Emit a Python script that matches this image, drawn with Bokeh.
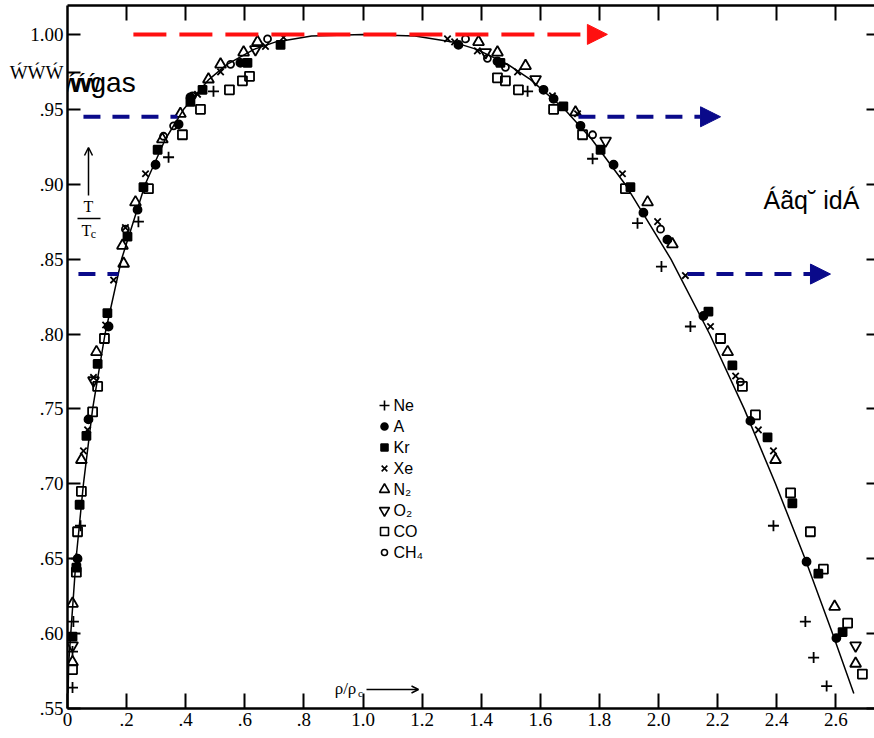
from bokeh.plotting import figure
from bokeh.models import Range1d, LinearAxis, FixedTicker, Arrow, NormalHead, OpenHead, Label
from bokeh.core.properties import value
from bokeh.embed import file_html
from bokeh.resources import INLINE

# ---- coexistence curve (reduced density vs reduced temperature) ----
curve_rho = [0.002, 0.004, 0.011, 0.029, 0.054, 0.085, 0.127, 0.183, 0.263, 0.331,
             0.393, 0.479, 0.540, 0.631, 0.705, 0.826, 1.000, 1.176, 1.303, 1.385,
             1.490, 1.566, 1.682, 1.774, 1.887, 2.042, 2.173, 2.290, 2.396, 2.496,
             2.589, 2.661]
curve_t = [0.560, 0.580, 0.600, 0.650, 0.700, 0.750, 0.800, 0.850, 0.900, 0.930,
           0.950, 0.970, 0.980, 0.990, 0.995, 0.999, 1.000, 0.999, 0.995, 0.990,
           0.980, 0.970, 0.950, 0.930, 0.900, 0.850, 0.800, 0.750, 0.700, 0.650,
           0.600, 0.560]

# ---- measured points per substance ----
ne_rho = [0.494, 0.342, 0.240, 0.044, 0.030, 0.020, 0.017, 0.017,
          1.557, 1.777, 1.929, 2.010, 2.108, 2.389, 2.497, 2.525, 2.569]
ne_t = [0.962, 0.918, 0.875, 0.672, 0.650, 0.608, 0.588, 0.564,
        0.962, 0.917, 0.874, 0.845, 0.805, 0.672, 0.608, 0.584, 0.565]

ar_rho = [0.416, 0.585, 0.237, 0.298, 0.376, 0.139, 0.071, 0.034,
          1.323, 1.455, 1.611, 1.645, 1.736, 1.848, 1.949, 2.030, 2.152, 2.311, 2.501, 2.602]
ar_t = [0.958, 0.981, 0.883, 0.913, 0.940, 0.805, 0.743, 0.650,
        0.993, 0.982, 0.963, 0.957, 0.939, 0.913, 0.881, 0.863, 0.812, 0.742, 0.648, 0.597]

kr_rho = [0.457, 0.609, 0.721, 0.257, 0.305, 0.416, 0.203, 0.135, 0.102, 0.064, 0.041, 0.030, 0.017,
          1.465, 1.678, 1.804, 1.905, 2.169, 2.250, 2.369, 2.453, 2.541, 2.623]
kr_t = [0.963, 0.981, 0.993, 0.898, 0.923, 0.955, 0.865, 0.814, 0.780, 0.732, 0.686, 0.644, 0.598,
        0.981, 0.952, 0.923, 0.898, 0.815, 0.779, 0.731, 0.687, 0.640, 0.601]

xe_rho = [0.731, 0.670, 0.518, 0.440, 0.264, 0.196, 0.156, 0.129, 0.088, 0.068, 0.054,
          1.286, 1.310, 1.387, 1.523, 1.641, 1.726, 1.878, 1.997, 2.091, 2.176, 2.261, 2.338, 2.389]
xe_t = [0.998, 0.992, 0.975, 0.960, 0.907, 0.871, 0.836, 0.806, 0.771, 0.736, 0.722,
        0.997, 0.995, 0.989, 0.975, 0.959, 0.947, 0.907, 0.875, 0.839, 0.805, 0.772, 0.736, 0.722]

n2_rho = [0.477, 0.518, 0.596, 0.643, 0.382, 0.321, 0.230, 0.186, 0.190, 0.098, 0.047, 0.017, 0.017,
          1.391, 1.455, 1.550, 1.719, 1.963, 2.047, 2.234, 2.396, 2.596, 2.667]
n2_t = [0.970, 0.980, 0.988, 0.995, 0.947, 0.930, 0.888, 0.859, 0.847, 0.788, 0.716, 0.620, 0.581,
        0.995, 0.988, 0.979, 0.948, 0.888, 0.860, 0.788, 0.716, 0.618, 0.580]

o2_rho = [0.636, 0.088, 0.017, 1.415, 1.584, 1.821, 2.667]
o2_t = [0.990, 0.769, 0.592, 0.988, 0.970, 0.929, 0.592]

co_rho = [0.450, 0.548, 0.592, 0.616, 0.389, 0.274, 0.125, 0.102, 0.085, 0.047, 0.034, 0.030, 0.017,
          1.455, 1.482, 1.526, 1.645, 1.743, 1.888, 2.210, 2.284, 2.328, 2.447, 2.514, 2.558, 2.640, 2.690]
co_t = [0.950, 0.963, 0.969, 0.972, 0.933, 0.897, 0.797, 0.765, 0.748, 0.695, 0.668, 0.641, 0.576,
        0.971, 0.969, 0.963, 0.950, 0.933, 0.897, 0.797, 0.765, 0.746, 0.694, 0.668, 0.643, 0.607, 0.573]

ch4_rho = [0.677, 0.552, 0.423, 0.359, 0.325, 0.196, 1.347, 1.421, 1.482, 1.777, 2.007, 2.277]
ch4_t = [0.997, 0.980, 0.959, 0.939, 0.932, 0.870, 0.997, 0.984, 0.978, 0.933, 0.870, 0.768]

# ---- axes ----
x_ticks = [0.0, 0.2, 0.4, 0.6, 0.8, 1.0, 1.2, 1.4, 1.6, 1.8, 2.0, 2.2, 2.4, 2.6]
x_tick_labels = ["0", ".2", ".4", ".6", ".8", "1.0", "1.2", "1.4", "1.6", "1.8", "2.0", "2.2", "2.4", "2.6"]
y_ticks = [0.55, 0.60, 0.65, 0.70, 0.75, 0.80, 0.85, 0.90, 0.95, 1.00]
y_tick_labels = [".55", ".60", ".65", ".70", ".75", ".80", ".85", ".90", ".95", "1.00"]

# reference lines (arrows) at fixed reduced temperatures
t_crit_line = 1.00
t_upper_line = 0.945
t_lower_line = 0.84

# ---- layout helpers: canvas pixels -> data units ----
W, H = 874, 738
LEFT, TOP, BOTTOM = 67, 5, 708
PX_PER_X = 295.5
PX_PER_Y = 1498.0
X_MAX = (W - LEFT) / PX_PER_X
Y_MIN = 0.55
Y_MAX = Y_MIN + (BOTTOM - TOP) / PX_PER_Y


def fx(px):
    return (px - LEFT) / PX_PER_X


def fy(py):
    return Y_MIN + (BOTTOM - py) / PX_PER_Y


p = figure(width=W, height=H, output_backend="svg", toolbar_location=None,
           x_range=Range1d(0, X_MAX), y_range=Range1d(Y_MIN, Y_MAX),
           x_axis_location=None, y_axis_location=None,
           min_border_left=LEFT, min_border_right=0, min_border_top=TOP,
           min_border_bottom=H - BOTTOM)
p.grid.visible = False
p.outline_line_color = None
p.background_fill_color = "white"
p.border_fill_color = "white"

LABEL_FONT = "Liberation Serif"

# the left margin also carries the start of the "gas" caption, which sits
# outside the frame; it rides on the left axis as an extra labelled position
gas_row = round(fy(72), 4)
left_ticks = y_ticks + [gas_row]
left_labels = {t: s for t, s in zip(y_ticks, y_tick_labels)}
left_labels[gas_row] = "\u1e82\u1e82\u1e82"

bottom = LinearAxis(ticker=FixedTicker(ticks=x_ticks),
                    major_label_overrides={t: s for t, s in zip(x_ticks, x_tick_labels)})
left = LinearAxis(ticker=FixedTicker(ticks=left_ticks), major_label_overrides=left_labels)
top = LinearAxis(ticker=FixedTicker(ticks=x_ticks[1:]),
                 major_label_overrides={t: "" for t in x_ticks[1:]})
right = LinearAxis(ticker=FixedTicker(ticks=y_ticks),
                   major_label_overrides={t: "" for t in y_ticks})

for ax, tick_len in ((bottom, 15), (left, 13), (top, 15), (right, 8)):
    ax.axis_line_color = "black"
    ax.axis_line_width = 2.5
    ax.major_tick_in = tick_len
    ax.major_tick_out = 0
    ax.major_tick_line_width = 2
    ax.major_tick_line_color = "black"
    ax.minor_tick_in = 0
    ax.minor_tick_out = 0
    ax.major_label_text_font = LABEL_FONT
    ax.major_label_text_font_size = "19px"
    ax.major_label_text_color = "black"

bottom.major_label_standoff = 4
left.major_label_standoff = 4
top.major_label_standoff = 0
top.major_label_text_font_size = "1px"
right.major_label_standoff = 0
right.major_label_text_font_size = "1px"
right.axis_line_color = None

p.add_layout(bottom, "below")
p.add_layout(left, "left")
p.add_layout(top, "above")
p.add_layout(right, "right")

# ---- curve and points ----
p.line(curve_rho, curve_t, line_color="black", line_width=1.5)

series = [
    (ne_rho, ne_t, "cross", 11, None),
    (ar_rho, ar_t, "circle", 8, "black"),
    (kr_rho, kr_t, "square", 8, "black"),
    (xe_rho, xe_t, "x", 9, None),
    (n2_rho, n2_t, "triangle", 11, None),
    (o2_rho, o2_t, "inverted_triangle", 11, None),
    (co_rho, co_t, "square", 9, None),
    (ch4_rho, ch4_t, "circle", 7, None),
]
for xs, ys, marker, size, fill in series:
    p.scatter(xs, ys, marker=marker, size=size, line_color="black", line_width=1.8,
              fill_color=fill)

# ---- key ----
key_names = ["Ne", "A", "Kr", "Xe", "N\u2082", "O\u2082", "CO", "CH\u2084"]
for i, ((_, _, marker, size, fill), name) in enumerate(zip(series, key_names)):
    row_y = fy(405 + 21 * i)
    p.scatter([fx(384)], [row_y], marker=marker, size=size - 1, line_color="black",
              line_width=1.6, fill_color=fill)
    p.text([fx(393)], [row_y], text=[name], text_font=value("Liberation Sans"),
           text_font_size="16px", text_baseline="middle", text_align="left",
           text_color="black")

# ---- axis captions drawn inside the frame ----
p.text([fx(88)], [fy(206)], text=["T"], text_font=value(LABEL_FONT),
       text_font_size="16px", text_align="center", text_baseline="middle")
p.segment([fx(77)], [fy(218)], [fx(100)], [fy(218)], line_color="black", line_width=1.5)
p.text([fx(86)], [fy(230)], text=["T"], text_font=value(LABEL_FONT),
       text_font_size="16px", text_align="center", text_baseline="middle")
p.text([fx(93)], [fy(233)], text=["c"], text_font=value(LABEL_FONT),
       text_font_size="12px", text_align="center", text_baseline="middle")
p.add_layout(Arrow(end=OpenHead(size=8, line_width=1.5), x_start=fx(88), y_start=fy(195),
                   x_end=fx(88), y_end=fy(147), line_width=1.5))

p.text([fx(345)], [fy(688)], text=["\u03c1/\u03c1"], text_font=value(LABEL_FONT),
       text_font_size="17px", text_align="center", text_baseline="middle")
p.text([fx(360)], [fy(692)], text=["c"], text_font=value(LABEL_FONT),
       text_font_size="11px", text_align="center", text_baseline="middle")
p.add_layout(Arrow(end=OpenHead(size=7, line_width=1.5), x_start=fx(366), y_start=fy(689),
                   x_end=fx(418), y_end=fy(689), line_width=1.5))

# ---- phase labels ----
for k in range(3):
    p.add_layout(Label(x=fx(61 + 10 * k), y=fy(82), text="\u1e83",
                       text_font="Liberation Sans", text_font_size="26px",
                       text_align="left", text_baseline="alphabetic", text_color="black"))
p.add_layout(Label(x=fx(90), y=fy(82), text="gas", text_font="Liberation Sans",
                   text_font_size="28px", text_align="left", text_baseline="alphabetic",
                   text_color="black"))
p.add_layout(Label(x=fx(763), y=fy(199), text="\u00c1\u00e3q\u02d8 id\u00c1",
                   text_font="Liberation Sans", text_font_size="25px",
                   text_align="left", text_baseline="alphabetic", text_color="black"))

# ---- dashed reference arrows ----
RED = "#ff1010"
BLUE = "#0a0a8a"
p.add_layout(Arrow(end=NormalHead(size=20, fill_color=RED, line_color=RED),
                   x_start=0.223, y_start=t_crit_line, x_end=1.827, y_end=t_crit_line,
                   line_color=RED, line_width=4, line_dash="33 13"))

p.add_layout(Arrow(end=None, x_start=0.054, y_start=t_upper_line, x_end=0.372,
                   y_end=t_upper_line, line_color=BLUE, line_width=4, line_dash="17 12"))
p.add_layout(Arrow(end=NormalHead(size=20, fill_color=BLUE, line_color=BLUE),
                   x_start=1.729, y_start=t_upper_line, x_end=2.210, y_end=t_upper_line,
                   line_color=BLUE, line_width=4, line_dash="17 12"))

p.add_layout(Arrow(end=None, x_start=0.037, y_start=t_lower_line, x_end=0.173,
                   y_end=t_lower_line, line_color=BLUE, line_width=4, line_dash="17 12"))
p.add_layout(Arrow(end=NormalHead(size=20, fill_color=BLUE, line_color=BLUE),
                   x_start=2.098, y_start=t_lower_line, x_end=2.582, y_end=t_lower_line,
                   line_color=BLUE, line_width=4, line_dash="17 12"))

open("out.html", "w").write(file_html(p, INLINE))
